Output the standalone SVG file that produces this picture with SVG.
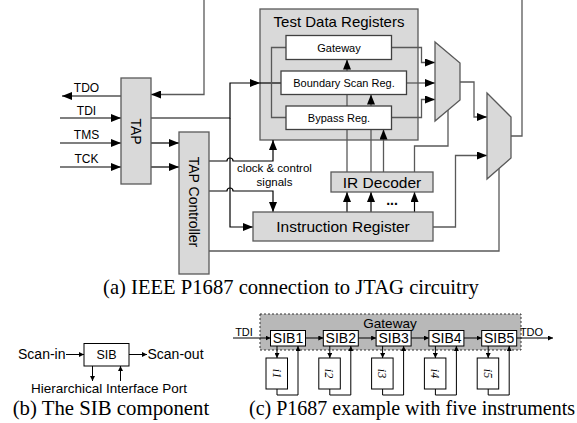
<svg xmlns="http://www.w3.org/2000/svg" width="577" height="423" viewBox="0 0 577 423">
<style>
.box{fill:#d9d9d9;stroke:#595959;stroke-width:1.3}
.wbox{fill:#fff;stroke:#404040;stroke-width:1.3}
.sb{fill:#fff;stroke:#000;stroke-width:1}
.k{fill:none;stroke:#000;stroke-width:1.2}
.g{fill:none;stroke:#595959;stroke-width:1.3}
.ks{fill:none;stroke:#000;stroke-width:1}
.t{font-family:"Liberation Sans",Arial,sans-serif;fill:#000}
.m{text-anchor:middle}
.cap{font-family:"Liberation Serif","Times New Roman",serif;fill:#000}
.ii{font-family:"Liberation Serif","Times New Roman",serif;font-style:italic;font-size:12px;text-anchor:middle}
</style>
<defs>
<marker id="ah" viewBox="0 0 10 8" refX="10" refY="4" markerWidth="10" markerHeight="8" markerUnits="userSpaceOnUse" orient="auto"><path d="M0,0L10,4L0,8z" fill="#000"/></marker>
<marker id="as" viewBox="0 0 6 6" refX="6" refY="3" markerWidth="5" markerHeight="5" markerUnits="userSpaceOnUse" orient="auto"><path d="M0,0L6,3L0,6z" fill="#000"/></marker>
</defs>

<!-- (a) -->
<g id="tdr">
<rect class="box" x="260" y="9" width="158" height="131"/>
<text class="t m" x="339" y="27" font-size="15">Test Data Registers</text>
</g>

<g id="connectors-a">
<path class="g" d="M204,0V94.5H151" marker-end="url(#ah)"/>
<path class="k" d="M121,96H62" marker-end="url(#ah)"/>
<path class="k" d="M60,118H121" marker-end="url(#ah)"/>
<path class="k" d="M60,143H121" marker-end="url(#ah)"/>
<path class="k" d="M60,167H121" marker-end="url(#ah)"/>
<path class="k" d="M151,143H179" marker-end="url(#ah)"/>
<path class="k" d="M151,167H179" marker-end="url(#ah)"/>
<path class="k" d="M151,118H230V83H260" marker-end="url(#ah)"/>
<path class="k" d="M230,118V227H253" marker-end="url(#ah)"/>
<path class="k" d="M260,83H281"/>
<path class="g" d="M286,47.5H271.5V117.5H286"/>
<path class="g" d="M391.5,47.5H421.5V62.5H435" marker-end="url(#ah)"/>
<path class="g" d="M406.5,83H435" marker-end="url(#ah)"/>
<path class="g" d="M391.5,117.5H421.5V99.5H435" marker-end="url(#ah)"/>
<path class="g" d="M460,82H474V117H487" marker-end="url(#ah)"/>
<path class="g" d="M511,136H522V0"/>
<path class="g" d="M433,227H455.5V155.5H487" marker-end="url(#ah)"/>
<path class="g" d="M499,168V251H209"/>
<path class="g" d="M448,110V146H414.5V172"/>
<path class="g" d="M347,172V59.5" marker-end="url(#ah)"/>
<path class="g" d="M371,172V94.5" marker-end="url(#ah)"/>
<path class="g" d="M383.5,172V129.5" marker-end="url(#ah)"/>
<path class="k" d="M347,212V192" marker-end="url(#ah)"/>
<path class="k" d="M371,212V192" marker-end="url(#ah)"/>
<path class="k" d="M414.5,212V192" marker-end="url(#ah)"/>
<path class="k" d="M209,161H227A3,3 0 0 1 233,161H273V140" marker-end="url(#ah)"/>
<path class="k" d="M209,191H227A3,3 0 0 1 233,191H273V212" marker-end="url(#ah)"/>
</g>

<g id="pins" class="t m" font-size="12">
<text x="86.5" y="91.5">TDO</text>
<text x="86.5" y="115">TDI</text>
<text x="86.5" y="139">TMS</text>
<text x="86.5" y="163">TCK</text>
</g>

<g id="tap">
<rect class="box" x="121" y="78" width="30" height="106"/>
<text class="t m" font-size="14" dy="0.35em" transform="translate(136,131.5) rotate(90)">TAP</text>
</g>
<g id="tap-controller">
<rect class="box" x="179" y="132" width="30" height="142"/>
<text class="t m" font-size="14" dy="0.35em" transform="translate(194,202) rotate(90)">TAP Controller</text>
</g>
<g id="gateway-reg">
<rect class="wbox" x="286" y="35.5" width="105.5" height="24"/>
<text class="t m" x="339" y="51.5" font-size="11">Gateway</text>
</g>
<g id="bsr">
<rect class="wbox" x="281" y="71" width="125.5" height="23.5"/>
<text class="t m" x="344" y="87" font-size="11">Boundary Scan Reg.</text>
</g>
<g id="bypass">
<rect class="wbox" x="286" y="106" width="105.5" height="23.5"/>
<text class="t m" x="339" y="122" font-size="11">Bypass Reg.</text>
</g>
<g id="mux1"><polygon class="box" points="435,42 460,63 460,100 435,121"/></g>
<g id="mux2"><polygon class="box" points="487,93 511,117 511,158 487,179"/></g>
<g id="ir-decoder">
<rect class="box" x="331" y="172" width="102" height="20"/>
<text class="t m" x="382" y="187.5" font-size="15.5">IR Decoder</text>
</g>
<g id="instruction-register">
<rect class="box" x="253" y="212" width="180" height="29"/>
<text class="t m" x="343" y="232" font-size="15.5">Instruction Register</text>
</g>
<g id="labels-a" class="t m">
<text x="274.5" y="172" font-size="11.5">clock &amp; control</text>
<text x="274.5" y="186" font-size="11.5">signals</text>
<text x="392" y="205" font-size="14" font-weight="bold">...</text>
</g>
<text class="cap m" x="291" y="294" font-size="20.6">(a) IEEE P1687 connection to JTAG circuitry</text>

<!-- (b) -->
<g id="connectors-b">
<path class="ks" d="M66,354.5H84" marker-end="url(#as)"/>
<path class="ks" d="M129,354.5H147" marker-end="url(#as)"/>
<path class="ks" d="M92.5,366V381" marker-end="url(#as)"/>
<path class="ks" d="M120.5,381V366" marker-end="url(#as)"/>
</g>
<g id="sib">
<rect class="sb" x="84" y="343.5" width="45" height="22.5"/>
<text class="t m" x="106.5" y="359" font-size="12.5">SIB</text>
</g>
<g id="labels-b" class="t" font-size="14">
<text x="65.5" y="359" text-anchor="end">Scan-in</text>
<text x="147.5" y="359">Scan-out</text>
<text x="109" y="392.5" text-anchor="middle" font-size="13.5">Hierarchical Interface Port</text>
</g>
<text class="cap" x="12.7" y="414.5" font-size="20.8">(b) The SIB component</text>

<!-- (c) -->
<g id="gateway-c">
<rect x="260" y="314" width="261" height="36" fill="#b8b8b8" stroke="#333" stroke-width="1" stroke-dasharray="2,2"/>
<text class="t m" x="390" y="328" font-size="13.5">Gateway</text>
</g>
<g id="connectors-c">
<path class="ks" d="M233,338H270.5" marker-end="url(#as)"/>
<path class="ks" d="M305.5,338H323.3" marker-end="url(#as)"/>
<path class="ks" d="M358.3,338H376.1" marker-end="url(#as)"/>
<path class="ks" d="M411.1,338H428.9" marker-end="url(#as)"/>
<path class="ks" d="M463.9,338H481.7" marker-end="url(#as)"/>
<path class="ks" d="M516.7,338H553" marker-end="url(#as)"/>
<path class="ks" d="M277,346V358" marker-end="url(#as)"/>
<path class="ks" d="M329.8,346V358" marker-end="url(#as)"/>
<path class="ks" d="M382.6,346V358" marker-end="url(#as)"/>
<path class="ks" d="M435.4,346V358" marker-end="url(#as)"/>
<path class="ks" d="M488.2,346V358" marker-end="url(#as)"/>
<path class="ks" d="M277,389V395H298V346" marker-end="url(#as)"/>
<path class="ks" d="M329.8,389V395H350.8V346" marker-end="url(#as)"/>
<path class="ks" d="M382.6,389V395H403.6V346" marker-end="url(#as)"/>
<path class="ks" d="M435.4,389V395H456.4V346" marker-end="url(#as)"/>
<path class="ks" d="M488.2,389V395H509.2V346" marker-end="url(#as)"/>
</g>
<g class="t m" font-size="11">
<text x="244" y="336">TDI</text>
<text x="531.5" y="336">TDO</text>
</g>
<g id="sib1"><rect class="sb" x="270.5" y="330.5" width="35" height="15.5"/><text class="t m" x="288" y="343.3" font-size="14">SIB1</text></g>
<g id="sib2"><rect class="sb" x="323.3" y="330.5" width="35" height="15.5"/><text class="t m" x="340.8" y="343.3" font-size="14">SIB2</text></g>
<g id="sib3"><rect class="sb" x="376.1" y="330.5" width="35" height="15.5"/><text class="t m" x="393.6" y="343.3" font-size="14">SIB3</text></g>
<g id="sib4"><rect class="sb" x="428.9" y="330.5" width="35" height="15.5"/><text class="t m" x="446.4" y="343.3" font-size="14">SIB4</text></g>
<g id="sib5"><rect class="sb" x="481.7" y="330.5" width="35" height="15.5"/><text class="t m" x="499.2" y="343.3" font-size="14">SIB5</text></g>
<g id="i1"><rect class="sb" x="266" y="358" width="21.5" height="31"/><text class="ii" dy="0.35em" transform="translate(276.75,373.5) rotate(90)">i1</text></g>
<g id="i2"><rect class="sb" x="318.8" y="358" width="21.5" height="31"/><text class="ii" dy="0.35em" transform="translate(329.55,373.5) rotate(90)">i2</text></g>
<g id="i3"><rect class="sb" x="371.6" y="358" width="21.5" height="31"/><text class="ii" dy="0.35em" transform="translate(382.35,373.5) rotate(90)">i3</text></g>
<g id="i4"><rect class="sb" x="424.4" y="358" width="21.5" height="31"/><text class="ii" dy="0.35em" transform="translate(435.15,373.5) rotate(90)">i4</text></g>
<g id="i5"><rect class="sb" x="477.2" y="358" width="21.5" height="31"/><text class="ii" dy="0.35em" transform="translate(487.95,373.5) rotate(90)">i5</text></g>
<text class="cap" x="249" y="414.5" font-size="20">(c) P1687 example with five instruments</text>
</svg>
